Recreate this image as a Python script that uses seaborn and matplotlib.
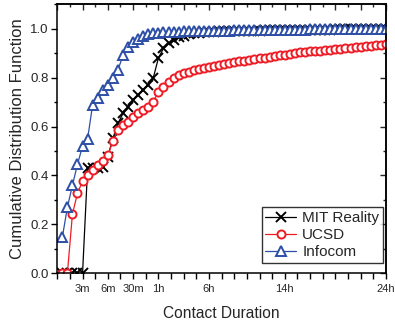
import numpy as np
import pandas as pd
import matplotlib
matplotlib.use("Agg")
import matplotlib.pyplot as plt
import seaborn as sns
from matplotlib.ticker import MultipleLocator, FixedLocator, NullFormatter

# ── Data (CDF sampled at evenly spaced points along the duration axis) ───────
tick_pos    = [5, 10, 15, 20, 30, 45, 65]
tick_labels = ["3m", "6m", "30m", "1h", "6h", "14h", "24h"]

mit = [0.0, 0.0, 0.0, 0.0, 0.0, 0.43, 0.43, 0.43, 0.434, 0.477,
       0.552, 0.613, 0.654, 0.68, 0.708, 0.73, 0.75, 0.77, 0.80, 0.88,
       0.92, 0.94, 0.954, 0.965, 0.972, 0.977, 0.981, 0.984, 0.986, 0.987,
       0.988, 0.989, 0.989, 0.990, 0.990, 0.991, 0.991, 0.992, 0.992, 0.992,
       0.993, 0.993, 0.993, 0.994, 0.994, 0.994, 0.995, 0.995, 0.995, 0.995,
       0.996, 0.996, 0.996, 0.996, 0.997, 0.997, 0.997, 0.997, 0.997, 0.998,
       0.998, 0.998, 0.998, 0.998, 0.998]

ucsd = [0.0, 0.0, 0.242, 0.328, 0.376, 0.40, 0.423, 0.444, 0.46, 0.484,
        0.539, 0.586, 0.607, 0.62, 0.641, 0.654, 0.668, 0.68, 0.702, 0.743,
        0.763, 0.784, 0.797, 0.811, 0.818, 0.824, 0.831, 0.836, 0.84, 0.845,
        0.849, 0.853, 0.857, 0.861, 0.864, 0.867, 0.870, 0.873, 0.876, 0.879,
        0.882, 0.885, 0.888, 0.891, 0.894, 0.897, 0.900, 0.903, 0.905, 0.907,
        0.909, 0.911, 0.913, 0.915, 0.917, 0.919, 0.921, 0.923, 0.925, 0.927,
        0.929, 0.931, 0.932, 0.934, 0.936]

infocom = [0.147, 0.27, 0.36, 0.446, 0.52, 0.55, 0.69, 0.716, 0.75, 0.77,
           0.797, 0.831, 0.892, 0.927, 0.947, 0.96, 0.972, 0.978, 0.981, 0.983,
           0.985, 0.986, 0.987, 0.988, 0.989, 0.989, 0.990, 0.990, 0.991, 0.991,
           0.991, 0.992, 0.992, 0.992, 0.993, 0.993, 0.993, 0.994, 0.994, 0.994,
           0.994, 0.995, 0.995, 0.995, 0.995, 0.996, 0.996, 0.996, 0.996, 0.997,
           0.997, 0.997, 0.997, 0.997, 0.998, 0.998, 0.998, 0.998, 0.998, 0.999,
           0.999, 0.999, 0.999, 0.999, 0.999]

point_idx = np.arange(1, len(mit) + 1)

# ── Style ────────────────────────────────────────────────────────────────────
sns.set_style("white")
plt.rcParams["font.family"] = ["Liberation Sans", "DejaVu Sans"]

fig = plt.figure(figsize=(3.95, 3.21), dpi=100)
ax = fig.add_axes([0.145, 0.1486, 0.832, 0.838])

series = [
    ("MIT Reality", mit,     "black",   "x", 6.8, dict()),
    ("UCSD",        ucsd,    "#ee1c25", "o", 5.8, dict(markerfacecolor="white")),
    ("Infocom",     infocom, "#2e4fa6", "^", 6.5, dict(markerfacecolor="white")),
]

for name, vals, color, marker, ms, extra in series:
    df = pd.DataFrame({"idx": point_idx, "cdf": vals})
    sns.lineplot(data=df, x="idx", y="cdf", ax=ax, color=color, lw=0.9,
                 marker=marker, markersize=ms, markeredgecolor=color,
                 markeredgewidth=1.4, label=name, **extra)

# ── Axes ─────────────────────────────────────────────────────────────────────
ax.set_xlim(0, 65)
ax.set_ylim(0, 1.1)

ax.xaxis.set_major_locator(FixedLocator(tick_pos))
ax.set_xticklabels(tick_labels, fontsize=8)
ax.xaxis.set_minor_locator(MultipleLocator(2.5))
ax.yaxis.set_major_locator(FixedLocator([0.0, 0.2, 0.4, 0.6, 0.8, 1.0]))
ax.yaxis.set_minor_locator(MultipleLocator(0.1))
ax.set_yticklabels(["0.0", "0.2", "0.4", "0.6", "0.8", "1.0"], fontsize=9.5)

ax.tick_params(which="major", direction="out", length=4, width=1, color="black", pad=2)
ax.tick_params(which="minor", direction="out", length=2.5, width=1, color="black")
ax.tick_params(axis="x", which="major", pad=4)
ax.tick_params(axis="x", which="minor", length=4)
ax.tick_params(bottom=True, left=True, which="both")

# mirrored ticks pointing inward on top / right
top = ax.secondary_xaxis("top")
top.xaxis.set_major_locator(MultipleLocator(5))
top.xaxis.set_minor_locator(MultipleLocator(2.5))
top.xaxis.set_major_formatter(NullFormatter())
top.tick_params(which="major", direction="in", length=4, width=1)
top.tick_params(which="minor", direction="in", length=2.5, width=1)

right = ax.secondary_yaxis("right")
right.yaxis.set_major_locator(MultipleLocator(0.2))
right.yaxis.set_minor_locator(MultipleLocator(0.1))
right.yaxis.set_major_formatter(NullFormatter())
right.tick_params(which="major", direction="in", length=4, width=1)
right.tick_params(which="minor", direction="in", length=2.5, width=1)

for sp in list(ax.spines.values()) + [top.spines["top"], right.spines["right"]]:
    sp.set_color("black")
    sp.set_linewidth(1.1)

ax.set_xlabel("Contact Duration", fontsize=11.2, labelpad=8)
ax.set_ylabel("Cumulative Distribution Function", fontsize=12, labelpad=4)

leg = ax.legend(loc="lower right", bbox_to_anchor=(0.991, 0.038), borderaxespad=0,
                fontsize=11, frameon=True, fancybox=False, edgecolor="black",
                handlelength=2.0, handletextpad=0.4, labelspacing=0.2,
                borderpad=0.25)
leg.get_frame().set_linewidth(1.0)

plt.savefig("out.png", dpi=100)
plt.close()
